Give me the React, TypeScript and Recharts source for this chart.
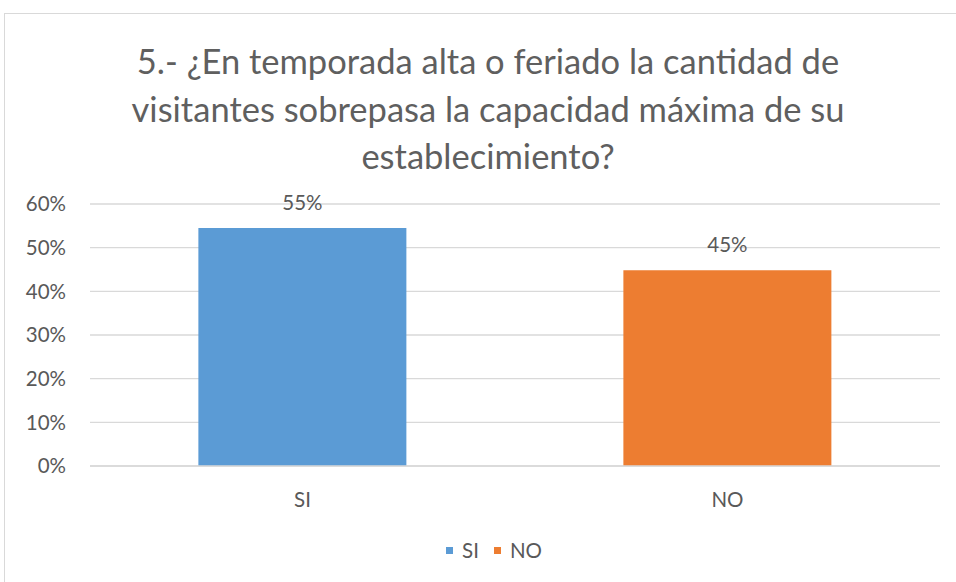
import React from 'react';
import { BarChart, Bar, XAxis, YAxis, CartesianGrid, Legend, LabelList } from 'recharts';

const categories = ['SI', 'NO'];
const siValues = [0.545, null];
const noValues = [null, 0.448];
const yTicks = [0, 0.1, 0.2, 0.3, 0.4, 0.5, 0.6];
const titleLines = [
  '5.- ¿En temporada alta o feriado la cantidad de',
  'visitantes sobrepasa la capacidad máxima de su',
  'establecimiento?',
];

const data = categories.map((c, i) => ({ name: c, idx: i + 0.5, SI: siValues[i], NO: noValues[i] }));

const FONT = 'Lato, "Open Sans", sans-serif';
const GREY = '#595959';
const FS = 20.5;

const pct = (v: any) => (v == null ? '' : `${Math.round(Number(v) * 100)}%`);

const LegendContent = (props: any) => {
  const items = [...(props.payload || [])].sort((a: any, b: any) => categories.indexOf(a.value) - categories.indexOf(b.value));
  return (
    <div style={{ display: 'flex', justifyContent: 'center', alignItems: 'center', paddingLeft: 48, fontFamily: FONT, fontSize: FS, color: GREY, lineHeight: '22px' }}>
      {items.map((it: any, i: number) => (
        <div key={it.value} style={{ display: 'flex', alignItems: 'center', marginLeft: i === 0 ? 0 : 15 }}>
          <div style={{ width: 7, height: 7, background: it.color, marginRight: 9 }} />
          <span>{it.value}</span>
        </div>
      ))}
    </div>
  );
};

export default function App() {
  return (
    <div style={{ position: 'absolute', left: 0, top: 0, width: 956, height: 582, background: '#fff', overflow: 'hidden', fontFamily: FONT }}>
      <div style={{ position: 'absolute', left: 4, top: 13, width: 980, height: 600, border: '1px solid #d9d9d9', boxSizing: 'border-box' }} />
      <div style={{ position: 'absolute', left: 0, top: 37, width: 976, textAlign: 'center', fontSize: 34.5, lineHeight: '47.5px', color: '#5f5f5f' }}>
        {titleLines.map((l, i) => (<div key={i}>{l}</div>))}
      </div>
      <div style={{ position: 'absolute', left: 0, top: 0 }}>
        <BarChart width={956} height={582} data={data} margin={{ top: 204, right: 16, bottom: 0, left: 0 }} barCategoryGap="25.5%">
          <CartesianGrid vertical={false} stroke="#d9d9d9" strokeWidth={1.3} />
          <XAxis xAxisId={1} dataKey="name" height={72} axisLine={false} tickLine={false} tickMargin={19} tick={{ fill: GREY, fontSize: FS, fontFamily: FONT }} />
          <XAxis xAxisId={0} dataKey="idx" type="number" domain={[0, 2]} ticks={[0, 1, 2]} height={1} tick={false} tickSize={8} axisLine={{ stroke: '#d9d9d9', strokeWidth: 1.3 }} tickLine={{ stroke: '#d9d9d9', strokeWidth: 1.3 }} />
          <YAxis domain={[0, 0.6]} ticks={yTicks} tickFormatter={pct} width={90} axisLine={false} tickLine={false} tickMargin={18} tick={{ fill: GREY, fontSize: FS, fontFamily: FONT }} />
          <Legend verticalAlign="bottom" align="center" height={43} content={<LegendContent />} />
          <Bar xAxisId={1} dataKey="SI" stackId="a" fill="#5b9bd5" isAnimationActive={false}>
            <LabelList dataKey="SI" position="top" offset={18} formatter={pct} style={{ fill: GREY, fontSize: FS, fontFamily: FONT }} />
          </Bar>
          <Bar xAxisId={1} dataKey="NO" stackId="a" fill="#ed7d31" isAnimationActive={false}>
            <LabelList dataKey="NO" position="top" offset={18} formatter={pct} style={{ fill: GREY, fontSize: FS, fontFamily: FONT }} />
          </Bar>
        </BarChart>
      </div>
    </div>
  );
}
